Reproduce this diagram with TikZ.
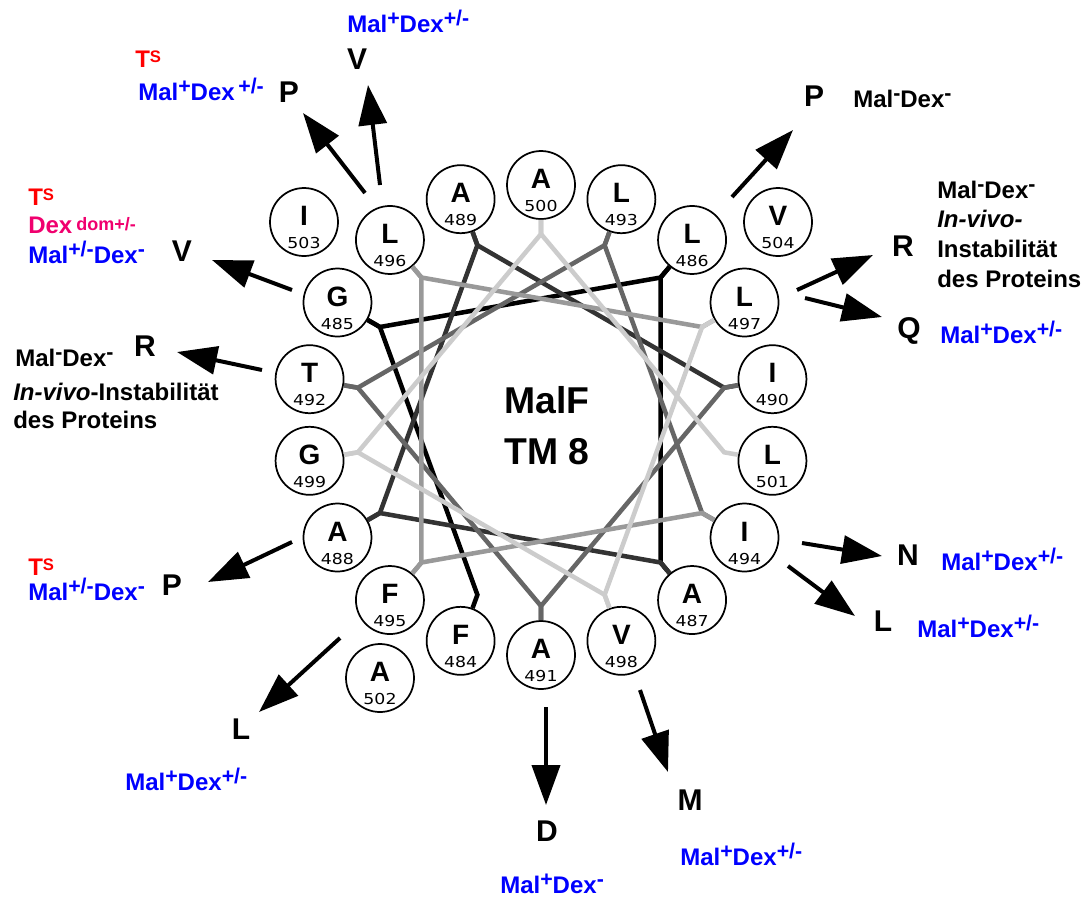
\documentclass[tikz,border=0pt]{standalone}
\usepackage{fontspec}
\setmainfont{Liberation Sans}
\newfontfamily\numfont[FakeStretch=1.15]{DejaVu Sans}
\usetikzlibrary{arrows.meta,calc}

\definecolor{mblue}{RGB}{0,0,255}
\definecolor{mred}{RGB}{255,0,0}
\definecolor{mpink}{RGB}{240,0,110}
\definecolor{gA}{RGB}{0,0,0}
\definecolor{gB}{RGB}{51,51,51}
\definecolor{gC}{RGB}{102,102,102}
\definecolor{gD}{RGB}{153,153,153}
\definecolor{gE}{RGB}{204,204,204}

% raised phenotype marks
\newcommand{\hi}[1]{\raisebox{0.28em}{\fontsize{16}{16}\selectfont #1}}
\newcommand{\TS}{T\raisebox{3.5pt}{\fontsize{12.5}{12.5}\selectfont S}}

\begin{document}
\begin{tikzpicture}[x=0.75pt,y=-0.75pt,
  res/.style={circle,draw,fill=white,line width=1.3pt,minimum size=51pt,inner sep=0pt},
  resletter/.style={font=\fontsize{21}{21}\selectfont\bfseries,inner sep=0pt,text depth=0pt},
  resnum/.style={font=\numfont\fontsize{11.3}{11.3}\selectfont,inner sep=0pt,text depth=0pt},
  mut/.style={font=\fontsize{22.5}{22.5}\selectfont\bfseries,inner sep=0pt,text depth=0pt},
  ann/.style={font=\fontsize{18}{20}\selectfont\bfseries,anchor=base west,inner sep=0pt},
  link/.style={line width=3.4pt},
  mutarrow/.style={line width=3pt,-{Triangle[length=30pt,width=21pt]}},
  title/.style={font=\fontsize{28}{28}\selectfont\bfseries,inner sep=0pt}
]
\useasboundingbox (0,0) rectangle (1084,897);
\coordinate (c) at (541,420);

% residues of the inner turn, 100 degrees apart
\foreach \n in {484,...,501} {
  \pgfmathsetmacro\ang{100*(\n-500)-90}
  \node[res] (r\n) at ($(c)+(\ang:235)$) {};
  \coordinate (j\n) at ($(c)+(\ang:186)$);
}
% outer residues
\node[res] (r502) at (380,678) {};
\node[res] (r503) at (304,222) {};
\node[res] (r504) at (778,222) {};

% one-letter codes and residue numbers
\foreach \n/\rl in {484/F,485/G,486/L,487/A,488/A,489/A,490/I,491/A,492/T,493/L,
                    494/I,495/F,496/L,497/L,498/V,499/G,500/A,501/L,502/A,503/I,504/V} {
  \node[resletter] (a\n) at ($(r\n)+(0,-6)$) {\rl};
  \node[resnum] (n\n) at ($(r\n)+(0,21)$) {\n};
}

% backbone path from residue to residue
\foreach \n/\col in {484/gA,485/gA,486/gA,487/gB,488/gB,489/gB,490/gC,491/gC,492/gC,
                     493/gC,494/gD,495/gD,496/gD,497/gE,498/gE,499/gE,500/gE} {
  \pgfmathtruncatemacro\m{\n+1}
  \draw[link,\col] (r\n) -- (j\n) -- (j\m) -- (r\m);
}

% centre label
\node[title] (t1) at (547,400) {MalF};
\node[title] (t2) at (547,452) {TM 8};

% substitutions and phenotypes
\node[ann,text=mred] (tsA) at (135,67) {\TS};
\node[ann,text=mblue] (phA) at (138,100) {Mal\hi{+}Dex\hi{\,+/-}};
\node[mut] (mA) at (289,92) {P};

\node[ann,text=mblue] (phB) at (347,32) {Mal\hi{+}Dex\hi{+/-}};
\node[mut] (mB) at (357,59) {V};

\node[ann,text=mred] (tsC) at (28,205) {\TS};
\node[ann,text=mpink] (dxC) at (28,233) {Dex\,\raisebox{2pt}{\fontsize{13.5}{13.5}\selectfont dom+/-}};
\node[ann,text=mblue] (phC) at (28,263) {Mal\hi{+/-}Dex\hi{-}};
\node[mut] (mC) at (182,251) {V};

\node[ann] (phD) at (15,366) {Mal\hi{-}Dex\hi{-}};
\node[mut] (mD) at (145,346) {R};
\node[ann] (inD) at (13,400) {\textit{In-vivo}-Instabilität};
\node[ann] (prD) at (13,428) {des Proteins};

\node[ann,text=mred] (tsE) at (28,575) {\TS};
\node[ann,text=mblue] (phE) at (28,600) {Mal\hi{+/-}Dex\hi{-}};
\node[mut] (mE) at (172,585) {P};

\node[mut] (mF) at (241,729) {L};
\node[ann,text=mblue] (phF) at (125,790) {Mal\hi{+}Dex\hi{+/-}};

\node[mut] (mG) at (547,831) {D};
\node[ann,text=mblue] (phG) at (500,893) {Mal\hi{+}Dex\hi{-}};

\node[mut] (mH) at (690,800) {M};
\node[ann,text=mblue] (phH) at (680,865) {Mal\hi{+}Dex\hi{+/-}};

\node[mut] (mI) at (814,96) {P};
\node[ann] (phI) at (853,107) {Mal\hi{-}Dex\hi{-}};

\node[mut] (mJ) at (903,246) {R};
\node[ann] (phJ) at (937,198) {Mal\hi{-}Dex\hi{-}};
\node[ann] (inJ) at (937,227) {\textit{In-vivo-}};
\node[ann] (isJ) at (937,257) {Instabilität};
\node[ann] (prJ) at (937,287) {des Proteins};

\node[mut] (mK) at (909,328) {Q};
\node[ann,text=mblue] (phK) at (940,343) {Mal\hi{+}Dex\hi{+/-}};

\node[mut] (mL) at (908,555) {N};
\node[ann,text=mblue] (phL) at (941,570) {Mal\hi{+}Dex\hi{+/-}};

\node[mut] (mM) at (883,621) {L};
\node[ann,text=mblue] (phM) at (917,637) {Mal\hi{+}Dex\hi{+/-}};

% arrow tails and tips
\coordinate (sA) at (365,193); \coordinate (eA) at (303,113);
\coordinate (sB) at (380,185); \coordinate (eB) at (368,85);
\coordinate (sC) at (292,290); \coordinate (eC) at (212,260);
\coordinate (sD) at (262,370); \coordinate (eD) at (177,352);
\coordinate (sE) at (292,542); \coordinate (eE) at (208,582);
\coordinate (sF) at (340,638); \coordinate (eF) at (259,712);
\coordinate (sG) at (546,707); \coordinate (eG) at (546,805);
\coordinate (sH) at (640,690); \coordinate (eH) at (668,772);
\coordinate (sI) at (732,197); \coordinate (eI) at (793,130);
\coordinate (sJ) at (797,290); \coordinate (eJ) at (873,255);
\coordinate (sK) at (805,298); \coordinate (eK) at (882,317);
\coordinate (sL) at (802,543); \coordinate (eL) at (882,556);
\coordinate (sM) at (788,566); \coordinate (eM) at (855,616);
\foreach \k in {A,B,C,D,E,F,G,H,I,J,K,L,M} {
  \draw[mutarrow] (s\k) -- (e\k);
}
\end{tikzpicture}
\end{document}
